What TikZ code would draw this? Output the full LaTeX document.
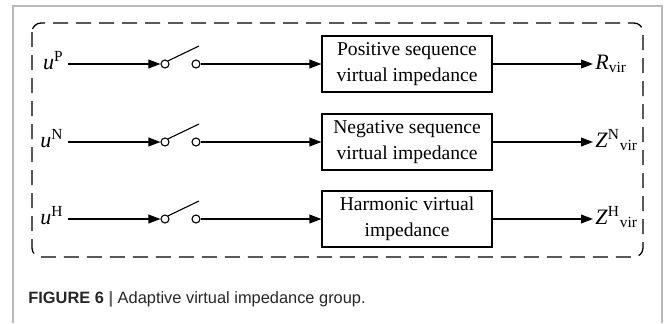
\documentclass[tikz,border=0pt]{standalone}
\usepackage{fontspec}
\setmainfont{Liberation Serif}
\newfontfamily\capfont{Liberation Sans}
\usetikzlibrary{arrows.meta}

\tikzset{
  blk/.style={draw, line width=0.6pt, minimum width=85pt, minimum height=28pt,
    align=center, inner sep=1pt, font=\fontsize{9.8}{13}\selectfont},
  pin/.style={draw, circle, line width=0.55pt, minimum size=4pt, inner sep=0pt, fill=white},
  sig/.style={line width=0.6pt, -{Triangle[length=6pt,width=4.4pt]}},
  blade/.style={line width=0.55pt},
  lbl/.style={font=\fontsize{11}{13}\selectfont, inner sep=0pt},
}

\begin{document}
\begin{tikzpicture}[x=0.5pt,y=-0.5pt]
  \useasboundingbox (0,0) rectangle (665,323);
  % page frame
  \draw[gray!55, line width=0.6pt] (13,323) -- (13,6) -- (662,6) -- (662,323);
  % group border
  \draw[line width=0.65pt, dash pattern=on 7.5pt off 4pt, rounded corners=4.5pt] (32,23) rectangle (643,257);

  % positive sequence
  \node[lbl, anchor=base east] (uP) at (64,69) {\textit{u}\textsuperscript{P}};
  \coordinate (inP) at (68,64);
  \node[pin] (aP) at (165,64) {};
  \node[pin] (bP) at (196,64) {};
  \coordinate (tP) at (199,46);
  \node[blk] (zP) at (407,64) {Positive sequence\\virtual impedance};
  \coordinate (oP) at (593,64);
  \node[lbl, anchor=base west] (rP) at (595,69) {\textit{R}\textsubscript{vir}};
  \draw[sig] (inP) -- (aP);
  \draw[blade] (aP.north east) -- (tP);
  \draw[sig] (bP) -- (zP);
  \draw[sig] (zP) -- (oP);

  % negative sequence
  \node[lbl, anchor=base east] (uN) at (64,147) {\textit{u}\textsuperscript{N}};
  \coordinate (inN) at (68,142);
  \node[pin] (aN) at (165,142) {};
  \node[pin] (bN) at (196,142) {};
  \coordinate (tN) at (199,124);
  \node[blk] (zN) at (407,142) {Negative sequence\\virtual impedance};
  \coordinate (oN) at (593,142);
  \node[lbl, anchor=base west] (rN) at (595,147) {\textit{Z}\textsuperscript{N}\textsubscript{vir}};
  \draw[sig] (inN) -- (aN);
  \draw[blade] (aN.north east) -- (tN);
  \draw[sig] (bN) -- (zN);
  \draw[sig] (zN) -- (oN);

  % harmonic
  \node[lbl, anchor=base east] (uH) at (64,224) {\textit{u}\textsuperscript{H}};
  \coordinate (inH) at (68,219);
  \node[pin] (aH) at (165,219) {};
  \node[pin] (bH) at (196,219) {};
  \coordinate (tH) at (199,201);
  \node[blk] (zH) at (407,219) {Harmonic virtual\\impedance};
  \coordinate (oH) at (593,219);
  \node[lbl, anchor=base west] (rH) at (595,224) {\textit{Z}\textsuperscript{H}\textsubscript{vir}};
  \draw[sig] (inH) -- (aH);
  \draw[blade] (aH.north east) -- (tH);
  \draw[sig] (bH) -- (zH);
  \draw[sig] (zH) -- (oH);

  % caption
  \node[anchor=base west, inner sep=0pt, text=black!85, font=\capfont\fontsize{8.2}{10}\selectfont] (cap) at (28,303)
    {\textbf{FIGURE 6} {\color{black!60}\textbf{|}} Adaptive virtual impedance group.};
\end{tikzpicture}
\end{document}
